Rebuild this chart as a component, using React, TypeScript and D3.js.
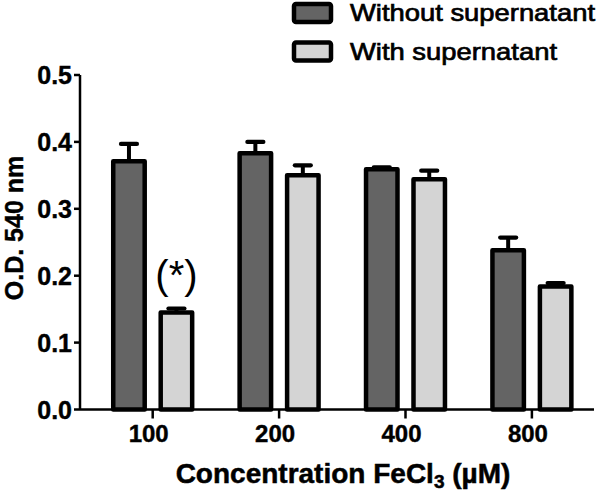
import { useEffect, useRef } from "react";
import * as d3 from "d3";

const concentrations = ["100", "200", "400", "800"];
const seriesNames = ["Without supernatant", "With supernatant"];
const withoutMean = [0.371, 0.383, 0.359, 0.238];
const withoutSem = [0.026, 0.017, 0.003, 0.019];
const withMean = [0.145, 0.35, 0.344, 0.184];
const withSem = [0.006, 0.015, 0.013, 0.005];
const yTicks = [0, 0.1, 0.2, 0.3, 0.4, 0.5];
const seriesColors = ["#646464", "#d4d4d4"];

export default function App() {
  const width = 600;
  const height = 494;
  const ref = useRef(null);

  useEffect(() => {
    document.body.style.margin = "0";
    ref.current.innerHTML = "";

    const data = concentrations.map((c, i) => ({
      label: c,
      values: [
        { key: seriesNames[0], mean: withoutMean[i], sem: withoutSem[i] },
        { key: seriesNames[1], mean: withMean[i], sem: withSem[i] },
      ],
    }));

    const x0 = d3.scaleBand().domain(concentrations).range([89.5, 595.1]).padding(0);
    const x1 = d3
      .scaleBand()
      .domain(seriesNames)
      .range([0, x0.bandwidth()])
      .paddingInner(0.337)
      .paddingOuter(0.5);
    const color = d3.scaleOrdinal().domain(seriesNames).range(seriesColors);
    const y = d3.scaleLinear().domain([0, 0.5]).range([409.5, 75]);

    const svg = d3.select(ref.current);
    const font = "'Liberation Sans', Arial, sans-serif";

    // bars
    const groups = svg
      .append("g")
      .selectAll("g")
      .data(data)
      .join("g")
      .attr("transform", (d) => `translate(${x0(d.label)},0)`);

    groups
      .selectAll("rect")
      .data((d) => d.values)
      .join("rect")
      .attr("x", (d) => x1(d.key))
      .attr("y", (d) => y(d.mean))
      .attr("width", x1.bandwidth())
      .attr("height", (d) => y(0) - y(d.mean))
      .attr("fill", (d) => color(d.key))
      .attr("stroke", "#000")
      .attr("stroke-width", 4.5)
      .attr("stroke-linejoin", "round");

    // error bars (upper only)
    groups
      .selectAll("line.stem")
      .data((d) => d.values)
      .join("line")
      .attr("class", "stem")
      .attr("x1", (d) => x1(d.key) + x1.bandwidth() / 2)
      .attr("x2", (d) => x1(d.key) + x1.bandwidth() / 2)
      .attr("y1", (d) => y(d.mean))
      .attr("y2", (d) => y(d.mean + d.sem))
      .attr("stroke", "#000")
      .attr("stroke-width", 4);

    groups
      .selectAll("line.cap")
      .data((d) => d.values)
      .join("line")
      .attr("class", "cap")
      .attr("x1", (d) => x1(d.key) + x1.bandwidth() / 2 - 8)
      .attr("x2", (d) => x1(d.key) + x1.bandwidth() / 2 + 8)
      .attr("y1", (d) => y(d.mean + d.sem))
      .attr("y2", (d) => y(d.mean + d.sem))
      .attr("stroke", "#000")
      .attr("stroke-width", 4.2)
      .attr("stroke-linecap", "round");

    // significance mark
    svg
      .append("text")
      .attr("x", x0("100") + x1(seriesNames[1]) + x1.bandwidth() / 2)
      .attr("y", y(withMean[0] + withSem[0]) - 19)
      .attr("text-anchor", "middle")
      .attr("font-family", font)
      .attr("font-size", 40)
      .attr("fill", "#000")
      .text("(*)");

    // y axis
    const yAxis = svg.append("g");
    yAxis
      .append("line")
      .attr("x1", 80)
      .attr("x2", 80)
      .attr("y1", y(0.5))
      .attr("y2", y(0))
      .attr("stroke", "#000")
      .attr("stroke-width", 2.5);
    yAxis
      .selectAll("line.tick")
      .data(yTicks)
      .join("line")
      .attr("class", "tick")
      .attr("x1", 74)
      .attr("x2", 80)
      .attr("y1", (d) => y(d))
      .attr("y2", (d) => y(d))
      .attr("stroke", "#000")
      .attr("stroke-width", 2.5);
    yAxis
      .selectAll("text")
      .data(yTicks)
      .join("text")
      .attr("x", 72)
      .attr("y", (d) => y(d) + 9)
      .attr("text-anchor", "end")
      .attr("font-family", font)
      .attr("font-weight", "bold")
      .attr("font-size", 25)
      .attr("stroke", "#000")
      .attr("stroke-width", 0.4)
      .text((d) => d3.format(".1f")(d));

    svg
      .append("text")
      .attr("transform", `translate(23,228) rotate(-90)`)
      .attr("text-anchor", "middle")
      .attr("font-family", font)
      .attr("font-weight", "bold")
      .attr("font-size", 25)
      .attr("stroke", "#000")
      .attr("stroke-width", 0.4)
      .text("O.D. 540 nm");

    // x axis
    const xAxis = svg.append("g");
    xAxis
      .append("line")
      .attr("x1", 80)
      .attr("x2", 594)
      .attr("y1", y(0))
      .attr("y2", y(0))
      .attr("stroke", "#000")
      .attr("stroke-width", 2.5);
    xAxis
      .selectAll("line.tick")
      .data(concentrations)
      .join("line")
      .attr("class", "tick")
      .attr("x1", (d) => x0(d) + x0.bandwidth() / 2)
      .attr("x2", (d) => x0(d) + x0.bandwidth() / 2)
      .attr("y1", y(0))
      .attr("y2", y(0) + 9)
      .attr("stroke", "#000")
      .attr("stroke-width", 2.5);
    xAxis
      .selectAll("text")
      .data(concentrations)
      .join("text")
      .attr("x", (d) => x0(d) + x0.bandwidth() / 2 - 4)
      .attr("y", 442)
      .attr("text-anchor", "middle")
      .attr("font-family", font)
      .attr("font-weight", "bold")
      .attr("font-size", 24)
      .attr("stroke", "#000")
      .attr("stroke-width", 0.4)
      .text((d) => d);

    const title = svg
      .append("text")
      .attr("x", 343)
      .attr("y", 483)
      .attr("text-anchor", "middle")
      .attr("font-family", font)
      .attr("font-weight", "bold")
      .attr("font-size", 28)
      .attr("stroke", "#000")
      .attr("stroke-width", 0.5);
    title.append("tspan").text("Concentration FeCl");
    title.append("tspan").attr("font-size", 19).attr("dy", 5).text("3");
    title.append("tspan").attr("dy", -5).text(" (\u00b5M)");

    // legend
    const legend = svg
      .append("g")
      .selectAll("g")
      .data(seriesNames)
      .join("g")
      .attr("transform", (d, i) => `translate(0,${i * 38.5})`);
    legend
      .append("rect")
      .attr("x", 294)
      .attr("y", 4)
      .attr("width", 37)
      .attr("height", 18)
      .attr("rx", 2)
      .attr("fill", (d) => color(d))
      .attr("stroke", "#000")
      .attr("stroke-width", 4.5);
    legend
      .append("text")
      .attr("x", 350)
      .attr("y", 21)
      .attr("font-family", font)
      .attr("font-size", 24)
      .attr("stroke", "#000")
      .attr("stroke-width", 0.7)
      .attr("textLength", (d, i) => (i === 0 ? 245 : 207))
      .attr("lengthAdjust", "spacingAndGlyphs")
      .text((d) => d);
  }, []);

  return <svg ref={ref} width={width} height={height} style={{ display: "block" }} />;
}
